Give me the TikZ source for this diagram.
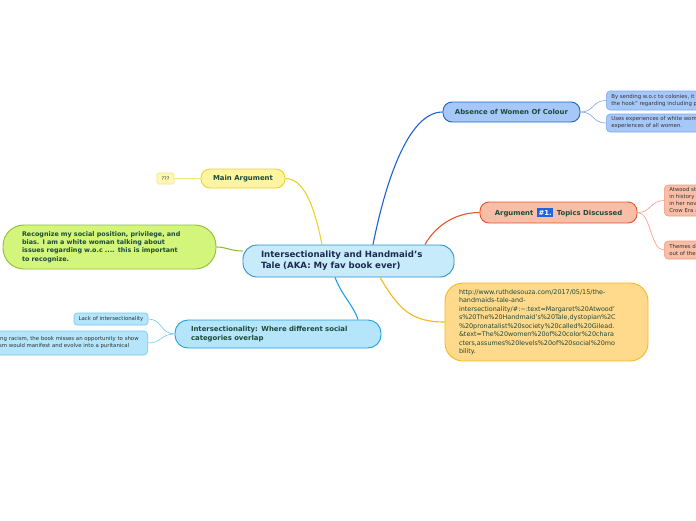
\documentclass[tikz,border=0pt]{standalone}
\usepackage{fontspec}
\setmainfont{DejaVu Sans}
\usetikzlibrary{calc}
\definecolor{ctrfill}{HTML}{C8EBFB}
\definecolor{ctrdraw}{HTML}{2A90D0}
\definecolor{ctrtext}{HTML}{1C2A50}
\definecolor{tealtext}{HTML}{1D4A3A}
\definecolor{abfill}{HTML}{A6C8F8}
\definecolor{abdraw}{HTML}{1E62D0}
\definecolor{abchild}{HTML}{78A6EA}
\definecolor{argfill}{HTML}{F9BEA8}
\definecolor{argdraw}{HTML}{E8542A}
\definecolor{argchild}{HTML}{F29A7C}
\definecolor{badge}{HTML}{2264DC}
\definecolor{urlfill}{HTML}{FFD98C}
\definecolor{urldraw}{HTML}{F5B820}
\definecolor{mafill}{HTML}{FFF4A0}
\definecolor{madraw}{HTML}{EED228}
\definecolor{qfill}{HTML}{FFF8B4}
\definecolor{qdraw}{HTML}{F5E47A}
\definecolor{grfill}{HTML}{D4F57C}
\definecolor{grdraw}{HTML}{8EC030}
\definecolor{infill}{HTML}{B4E5FA}
\definecolor{indraw}{HTML}{1EA0E0}
\definecolor{inchild}{HTML}{70C8F0}
\definecolor{smalltext}{HTML}{333333}
\tikzset{
  box/.style={draw, line width=0.9pt, inner xsep=5pt, inner ysep=2pt},
  bigtxt/.style={font=\fontsize{8.6}{11}\selectfont\bfseries, text=ctrtext},
  midtxt/.style={font=\fontsize{6.9}{8.5}\selectfont\bfseries, text=tealtext},
  smalltxt/.style={font=\fontsize{5.4}{7}\selectfont, text=smalltext},
  mainline/.style={line width=1.1pt},
  childline/.style={line width=0.6pt},
}
\begin{document}
\begin{tikzpicture}[x=1pt,y=-1pt]
\useasboundingbox (0,0) rectangle (696,520);
\clip (0,0) rectangle (696,520);
% main nodes
\node[box, bigtxt, fill=ctrfill, draw=ctrdraw, rounded corners=14pt, minimum width=211pt, minimum height=32pt, align=left, text width=175pt, inner xsep=18pt] (c) at (348.5,261) {Intersectionality and Handmaid's\\Tale (AKA: My fav book ever)};
\node[box, midtxt, fill=abfill, draw=abdraw, rounded corners=9pt, minimum width=137pt, minimum height=20pt] (ab) at (511.5,112) {Absence of Women Of Colour};
\node[box, midtxt, fill=argfill, draw=argdraw, rounded corners=9pt, minimum width=157pt, minimum height=21pt] (arg) at (558.5,212.5) {Argument\enspace{\setlength\fboxsep{1.6pt}\colorbox{badge}{\textcolor{white}{\#1.}}}\enspace Topics Discussed};
\node[box, fill=urlfill, draw=urldraw, rounded corners=18pt, minimum width=203pt, minimum height=78pt, text width=175pt, inner xsep=14pt, align=left, font=\fontsize{6.4}{8.5}\selectfont, text=tealtext] (url) at (546.5,322) {http://www.ruthdesouza.com/2017/05/15/the-\\handmaids-tale-and-\\intersectionality/\#:\textasciitilde:text=Margaret\%20Atwood'\\s\%20The\%20Handmaid's\%20Tale,dystopian\%2C\\\%20pronatalist\%20society\%20called\%20Gilead.\\\&text=The\%20women\%20of\%20color\%20chara\\cters,assumes\%20levels\%20of\%20social\%20mo\\bility.};
\node[box, midtxt, fill=mafill, draw=madraw, rounded corners=9pt, minimum width=84pt, minimum height=19pt] (ma) at (243,178.5) {Main Argument};
\node[draw=qdraw, fill=qfill, line width=0.6pt, rounded corners=1.5pt, minimum width=17pt, minimum height=11pt, inner sep=1pt, font=\fontsize{5}{6}\selectfont, text=smalltext] (q) at (165.5,178.5) {???};
\node[box, fill=grfill, draw=grdraw, rounded corners=21pt, minimum width=213pt, minimum height=44pt, text width=175pt, inner xsep=19pt, align=left, font=\fontsize{6.4}{8.4}\selectfont\bfseries, text=tealtext] (gr) at (109.5,247) {Recognize my social position, privilege, and\\bias. I am a white woman talking about\\issues regarding w.o.c .... this is important\\to recognize.};
\node[box, midtxt, fill=infill, draw=indraw, rounded corners=13pt, minimum width=206pt, minimum height=28pt, text width=174pt, inner xsep=16pt, align=left] (in) at (278,334) {Intersectionality: Where different social\\categories overlap};
% child nodes
\node[box, smalltxt, fill=infill, draw=inchild, line width=0.6pt, rounded corners=3pt, minimum width=74pt, minimum height=12pt, inner sep=1pt] (lack) at (111,319) {Lack of intersectionality};
\node[box, smalltxt, fill=infill, draw=inchild, line width=0.6pt, rounded corners=4pt, minimum height=24pt, align=left, anchor=east, inner xsep=9pt] (rac) at (148,343) {By ignoring racism, the book misses an opportunity to show\\how racism would manifest and evolve into a puritanical};
\node[box, smalltxt, fill=abfill, draw=abchild, line width=0.6pt, rounded corners=4pt, minimum height=19pt, align=left, anchor=west] (bys) at (606,100.5) {By sending w.o.c to colonies, it lets Atwood ``off\\the hook'' regarding including people of colour};
\node[box, smalltxt, fill=abfill, draw=abchild, line width=0.6pt, rounded corners=4pt, minimum height=18pt, align=left, anchor=west] (uses) at (606,123) {Uses experiences of white women to represent the\\experiences of all women.};
\node[box, smalltxt, fill=argfill, draw=argchild, line width=0.6pt, rounded corners=4pt, minimum height=31pt, align=left, anchor=west] (atw) at (664,200.5) {Atwood states that everything\\in history has happened\\in her novel, like the Jim\\Crow Era and slavery};
\node[box, smalltxt, fill=argfill, draw=argchild, line width=0.6pt, rounded corners=4pt, minimum height=18pt, align=left, anchor=west] (thm) at (664,250) {Themes discussed\\out of the book};
% main connectors
\draw[mainline, draw=abdraw] ($(c.north)+(24.5,0)$) .. controls +(12,-60) and +(-35,0) .. (ab.west);
\draw[mainline, draw=argdraw] ($(c.north)+(76.5,0)$) .. controls +(10,-18) and +(-25,0) .. (arg.west);
\draw[mainline, draw=urldraw] ($(c.south)+(31.5,0)$) .. controls +(18,30) and +(-35,0) .. (url.west);
\draw[mainline, draw=madraw] ($(c.north)+(-26.5,0)$) .. controls +(-8,-40) and +(18,0) .. (ma.east);
\draw[mainline, draw=grdraw] ($(c.west)+(0,-10)$) .. controls +(-12,0) and +(10,0) .. (gr.east);
\draw[mainline, draw=indraw] ($(c.south)+(-13.5,0)$) .. controls +(8,20) and +(-5,-15) .. ($(in.north)+(80,0)$);
% child connectors
\draw[childline, draw=abchild] (ab.east) .. controls +(14,0) and +(-14,0) .. (bys.west);
\draw[childline, draw=abchild] (ab.east) .. controls +(14,0) and +(-14,0) .. (uses.west);
\draw[childline, draw=argchild] (arg.east) .. controls +(14,0) and +(-14,0) .. (atw.west);
\draw[childline, draw=argchild] (arg.east) .. controls +(14,0) and +(-14,0) .. (thm.west);
\draw[childline, draw=qdraw] (ma.west) -- (q.east);
\draw[childline, draw=inchild] (in.west) .. controls +(-14,0) and +(14,0) .. (lack.east);
\draw[childline, draw=inchild] (in.west) .. controls +(-14,0) and +(14,0) .. (rac.east);
\end{tikzpicture}
\end{document}
